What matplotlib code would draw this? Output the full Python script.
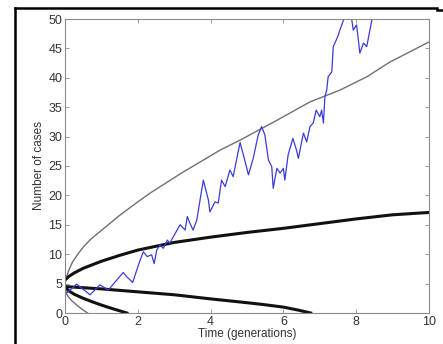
import matplotlib
matplotlib.use("Agg")
import matplotlib.pyplot as plt
from matplotlib.lines import Line2D

# ---- data ----
gray_up_t = [0, 0.05, 0.1, 0.2, 0.35, 0.5, 0.7, 1.05, 1.5, 2.0, 2.34, 3.2, 4.26, 4.81, 5.8, 6.73, 7.55, 8.3, 8.93, 9.5, 10]
gray_up_v = [5.3, 6.3, 7.2, 8.6, 10.0, 11.2, 12.5, 14.3, 16.6, 18.9, 20.4, 23.8, 27.7, 29.4, 32.7, 35.9, 37.9, 40.2, 42.7, 44.5, 46.1]

black_up_t = [0, 0.1, 0.25, 0.5, 0.75, 1, 1.5, 2, 3, 4, 5, 6, 7, 8, 9, 10]
black_up_v = [5.6, 6.2, 6.8, 7.6, 8.2, 8.8, 9.8, 10.7, 12.0, 12.9, 13.7, 14.4, 15.2, 16.0, 16.7, 17.1]

black_lo_t = [0, 0.5, 1, 2, 3, 4, 5, 5.5, 6, 6.4, 6.75]
black_lo_v = [4.5, 4.3, 4.1, 3.6, 3.1, 2.4, 1.75, 1.4, 1.0, 0.5, 0]

black_lo2_t = [0, 0.1, 0.25, 0.5, 0.75, 1.0, 1.3, 1.7]
black_lo2_v = [4.4, 3.8, 3.2, 2.5, 1.9, 1.35, 0.75, 0]

gray_lo_t = [0, 0.1, 0.2, 0.35, 0.5, 0.62]
gray_lo_v = [3.6, 2.7, 2.0, 1.2, 0.5, 0]

blue_t = [0, 0.05, 0.32, 0.69, 0.96, 1.19, 1.6, 1.69, 1.86, 2.03, 2.15, 2.26, 2.38, 2.45, 2.52,
          2.61, 2.7, 2.81, 2.88, 3.16, 3.3, 3.36, 3.43, 3.52, 3.62, 3.8, 3.94, 3.98, 4.12, 4.21,
          4.3, 4.4, 4.53, 4.62, 4.76, 4.81, 4.95, 5.04, 5.17, 5.31, 5.4, 5.49, 5.59, 5.68, 5.72,
          5.82, 5.91, 6.0, 6.04, 6.13, 6.26, 6.36, 6.41, 6.55, 6.64, 6.73, 6.82, 6.9, 7.0, 7.05,
          7.1, 7.14, 7.19, 7.23, 7.33, 7.37, 7.45, 7.51, 7.55, 7.65, 7.75, 7.88, 7.92, 8.01, 8.06,
          8.1, 8.2, 8.29, 8.36, 8.43, 8.5]
blue_v = [3.9, 3.4, 4.9, 3.1, 4.8, 3.9, 6.9, 6.2, 5.2, 8.4, 10.4, 9.6, 9.9, 8.4, 10.7,
          11.6, 11.0, 12.4, 11.9, 15.0, 14.1, 16.4, 15.3, 14.1, 15.8, 22.6, 19.2, 17.2, 18.9, 18.7,
          22.6, 21.5, 24.3, 23.2, 27.5, 29.0, 25.7, 23.5, 26.3, 30.3, 31.7, 30.3, 26.0, 24.9, 21.2,
          24.6, 23.8, 24.6, 22.6, 26.9, 29.7, 27.7, 26.3, 30.6, 29.1, 31.7, 32.3, 34.5, 33.4, 34.5,
          32.3, 36.8, 37.9, 40.2, 41.0, 45.3, 46.4, 47.3, 48.1, 49.8, 52, 49.8, 48.1, 49.0, 46.4,
          44.2, 45.9, 45.3, 47.6, 49.8, 52]

x_ticks = [0, 2, 4, 6, 8, 10]
y_ticks = [0, 5, 10, 15, 20, 25, 30, 35, 40, 45, 50]
x_label = "Time (generations)"
y_label = "Number of cases"

# ---- figure ----
plt.rcParams['font.family'] = ['Liberation Sans', 'DejaVu Sans']
W, H = 443, 344
fig = plt.figure(figsize=(W / 100, H / 100), dpi=100)
ax = fig.add_axes([65 / W, 1 - 313 / H, (429 - 65) / W, (313 - 19) / H])

ax.plot(gray_up_t, gray_up_v, color='#707070', lw=1.0)
ax.plot(gray_lo_t, gray_lo_v, color='#707070', lw=1.0)
ax.plot(black_up_t, black_up_v, color='#111111', lw=2.2)
ax.plot(black_lo_t, black_lo_v, color='#111111', lw=2.2)
ax.plot(black_lo2_t, black_lo2_v, color='#111111', lw=2.2)
ax.plot(blue_t, blue_v, color='#3b3bd8', lw=0.9)

ax.set_xlim(0, 10)
ax.set_ylim(0, 50)
ax.set_xticks(x_ticks)
ax.set_yticks(y_ticks)
ax.set_xticklabels([str(v) for v in x_ticks])
ax.set_yticklabels([str(v) for v in y_ticks])
ax.tick_params(direction='in', length=3, width=0.6, colors='#8a8a8a',
               labelcolor='#333333', labelsize=9, top=True, right=True, pad=2)
for s in ax.spines.values():
    s.set_color('#8a8a8a')
    s.set_linewidth(0.8)
ax.set_xlabel(x_label, fontsize=8.5, color='#333333', labelpad=0)
ax.set_ylabel(y_label, fontsize=8.5, color='#333333', labelpad=2)

# black outer frame pieces
fig.add_artist(Line2D([15 / W, 437 / W], [1 - 8 / H, 1 - 8 / H], color='black', lw=1.8, transform=fig.transFigure))
fig.add_artist(Line2D([437 / W, 443 / W], [1 - 10 / H, 1 - 10 / H], color='black', lw=1.8, transform=fig.transFigure))
fig.add_artist(Line2D([15 / W, 15 / W], [1 - 8 / H, 0], color='black', lw=1.8, transform=fig.transFigure))

fig.savefig('out.png', dpi=100)
